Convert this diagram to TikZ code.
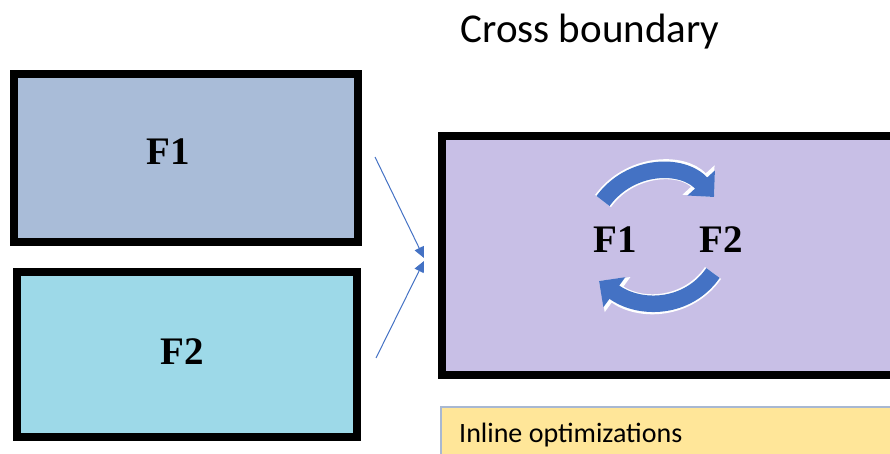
\documentclass[tikz,border=0pt]{standalone}
\usepackage{fontspec}
\setmainfont{Liberation Serif}
\newfontfamily\calibri{Carlito}
\usetikzlibrary{arrows.meta}
\definecolor{boxA}{HTML}{A9BCD8}
\definecolor{boxB}{HTML}{9DD9E8}
\definecolor{boxC}{HTML}{C8BFE6}
\definecolor{noteY}{HTML}{FFE699}
\definecolor{noteEdge}{HTML}{A8B8D2}
\definecolor{flow}{HTML}{4472C4}
\tikzset{
  fbox/.style={draw=black, line width=8pt, inner sep=0pt},
  flabel/.style={font=\bfseries\fontsize{39}{39}\selectfont, inner sep=0pt, anchor=base},
  link/.style={draw=flow, line width=1pt, -{Triangle[length=11pt,width=10pt]}},
  loophalo/.style={draw=white, line width=20pt, -{Triangle[length=23pt,width=42pt]}},
  loopband/.style={draw=flow, line width=16.5pt, -{Triangle[length=19pt,width=36pt]}},
}
\begin{document}
\begin{tikzpicture}[x=1pt,y=-1pt]
\useasboundingbox (0,0) rectangle (890,454);
\clip (0,0) rectangle (890,454);
% title
\node[font=\calibri\fontsize{41}{41}\selectfont, anchor=base, inner sep=0pt] (title) at (590,43) {Cross boundary};
% input functions
\node[fbox, fill=boxA, minimum width=344pt, minimum height=168pt] (f1) at (186,158) {};
\node[flabel] (t1) at (168,165) {F1};
\node[fbox, fill=boxB, minimum width=340pt, minimum height=165pt] (f2) at (187,354.5) {};
\node[flabel] (t2) at (182,364) {F2};
% merged region
\node[fbox, fill=boxC, minimum width=500pt, minimum height=239pt] (merged) at (692,255.5) {};
% note strip
\node[draw=noteEdge, line width=1.5pt, fill=noteY, minimum width=470pt, minimum height=56pt, inner sep=0pt] (note) at (676,435) {};
\node[font=\calibri\fontsize{28}{28}\selectfont, anchor=base west, inner sep=0pt] (notetext) at (459,442) {Inline optimizations};
% inputs flowing into the merged region
\coordinate (s1) at (375,157);
\coordinate (e1) at (424,258);
\coordinate (s2) at (376,358);
\coordinate (e2) at (424,261);
\draw[link] (s1) -- (e1);
\draw[link] (s2) -- (e2);
% functions inside the merged region
\node[flabel] (g1) at (615,252) {F1};
\node[flabel] (g2) at (721,252) {F2};
% cyclic calls between them
\coordinate (u1) at (603,201);
\coordinate (u2) at (714,197);
\coordinate (l1) at (713,273);
\coordinate (l2) at (599,281);
\draw[loophalo] (u1) .. controls (630,164) and (682,162) .. (u2);
\draw[loopband] (u1) .. controls (630,164) and (682,162) .. (u2);
\draw[loophalo] (l1) .. controls (688,309) and (640,311) .. (l2);
\draw[loopband] (l1) .. controls (688,309) and (640,311) .. (l2);
\end{tikzpicture}
\end{document}
